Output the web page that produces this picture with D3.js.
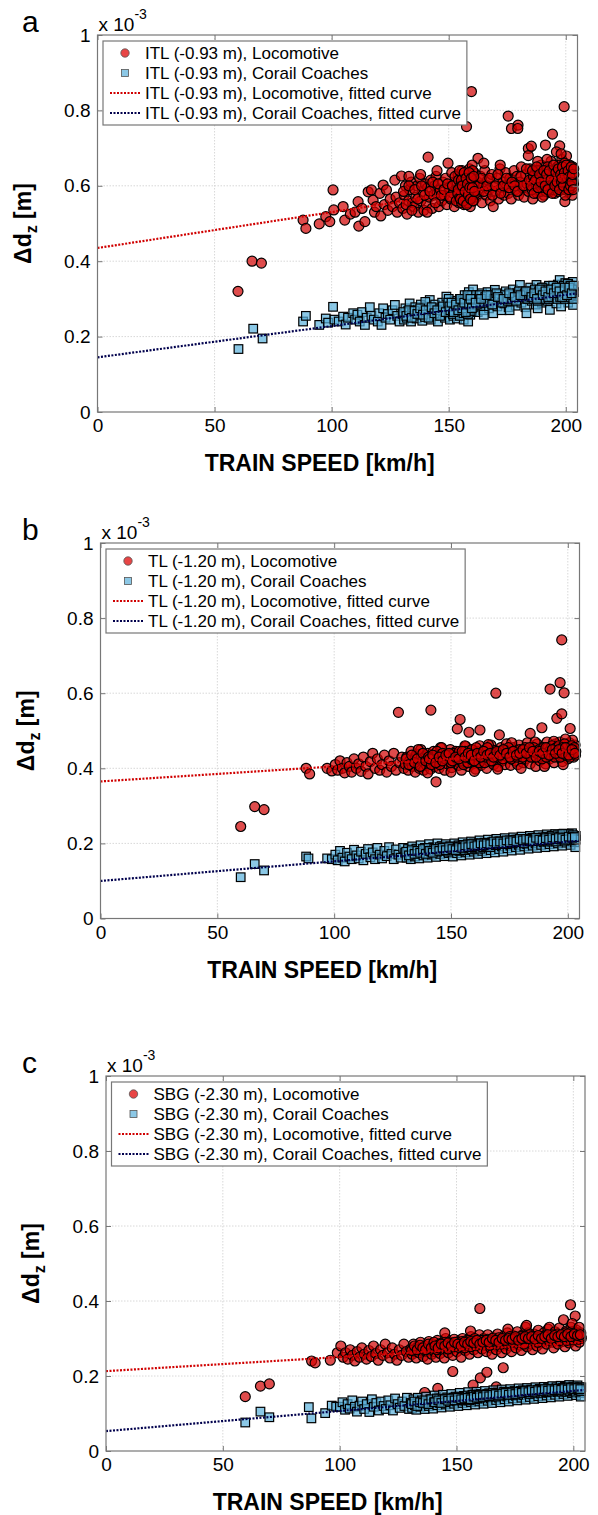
<!DOCTYPE html>
<html>
<head>
<meta charset="utf-8">
<script src="https://cdn.jsdelivr.net/npm/d3@7"></script>
<style>
  body { margin: 0; background: #fff; }
  svg { font-family: Arial, "Liberation Sans", Helvetica, sans-serif; }
</style>
</head>
<body>
<div class="chart"></div>
<script>
var svgWidth = 598;
var svgHeight = 1515;

// axis ticks (dz shown in units of 1e-3 m)
var xTicks = [0, 50, 100, 150, 200];
var yTicks = [0, 0.2, 0.4, 0.6, 0.8, 1];
var xMax = 205;

// ---- panel a : ITL (-0.93 m) ----
var locoA = [[60,.32],[66,.40],[70,.395],[87.8,.509],[89,.487],[94.7,.499],[97.5,.518],[99.2,.505],[100.6,.589],[100.9,.536],[104.9,.545],[105.6,.509],[108,.525],[110,.53],[111.3,.558],[111.6,.493],[113,.54],[114.2,.505],[115.6,.584],[117,.589],[117.7,.562],[118.3,.53],[119,.545],[120.6,.58],[121,.52],[122,.602],[122.5,.55],[123.4,.589],[124,.535],[125,.565],[126,.545],[127,.615],[127.5,.57],[128,.53],[129.8,.626],[129,.555],
  [130.4,.54],[131,.575],[131.5,.60],[132.2,.525],[132.8,.56],[133.3,.59],[134,.61],[134.6,.555],[135.2,.545],[135.9,.57],[136.5,.6],[137,.53],[137.6,.62],[138.1,.56],[138.8,.585],[139.4,.535],[140,.605],[140.5,.55],[141,.595],[141.2,.676],
  [141.7,.57],[142.3,.615],[142.9,.54],[143.4,.575],[144,.6],[144.6,.625],[145.1,.58],[145.8,.545],[146.4,.59],[147,.56],[147.5,.61],[148.1,.575],[148.7,.62],[149.2,.55],[149.7,.66],[150.2,.595],[150.8,.565],[151.3,.635],[151.9,.58],[152.4,.545],
  [153,.61],[153.5,.59],[154,.63],[154.4,.555],[154.9,.6],[155.3,.575],[155.7,.64],[156.1,.585],[156.5,.55],[156.9,.615],[157.2,.6],[157.6,.757],[157.9,.565],[158.3,.625],[158.6,.59],[158.9,.645],[159.2,.545],[159.5,.605],[159.7,.85],[160,.58],
  [160.3,.615],[160.6,.56],[160.9,.635],[161.3,.595],[161.8,.57],[162.3,.61],[162.5,.673],[163,.585],[163.6,.625],[164.2,.555],[164.8,.6],[165.4,.64],[166,.575],[166.6,.615],[167.2,.59],[167.8,.56],[168.4,.63],[169,.545],[169.5,.6],[170.1,.585],
  [170.7,.62],[171.3,.565],[171.9,.645],[172.5,.595],[173.1,.61],[173.7,.575],[174.3,.635],[174.9,.6],[175.4,.785],[175.5,.58],[176.1,.62],[176.8,.752],[176.7,.565],[177.3,.605],[177.9,.64],[178.5,.59],[179.1,.625],[179.6,.761],[179.5,.752],[179.8,.575],
  [180.4,.61],[181,.65],[181.6,.595],[182.2,.57],[182.8,.63],[183.4,.605],[184,.699],[184,.68],[184.1,.585],[184.7,.645],[185.3,.705],[185.3,.615],[185.9,.565],[186.5,.6],[187.1,.635],[187.7,.58],[188.3,.62],[188.9,.595],[189.5,.655],[190.1,.61],
  [190.7,.575],[191.3,.708],[191.3,.64],[191.9,.6],[192.5,.62],[193.1,.585],[193.7,.665],[194.3,.737],[194.3,.605],[194.9,.63],[195.4,.58],[195.9,.615],[196.4,.65],[196.9,.595],[197.4,.706],[197.4,.635],[197.9,.605],[198.3,.67],[198.7,.59],[199,.625],
  [199.3,.81],[199.6,.558],[199.8,.645],[200.1,.61],[200.3,.679],[200.5,.6],[200.9,.635],[201.2,.585],[201.6,.655],[201.9,.62],[202.2,.6],[202.5,.64],[202.8,.575],[203.1,.615],[203.4,.63],
  [196,.69],[198,.685],[192,.67],[188,.665],[172,.655],[165,.66],[160,.655],[145,.64],[138,.63],[133,.625],
  [130.7,.585],[131.8,.55],[133,.6],[134.3,.535],[135.5,.59],[136.8,.565],[138.4,.6],[139.7,.575],[140.8,.53],[142,.585],[143.2,.61],[144.3,.555],[145.5,.605],[146.8,.575],[148,.59],[149.5,.605],[150.5,.57],[151.6,.6],[152.7,.625],[153.2,.56],
  [153.8,.58],[154.2,.615],[154.7,.57],[155.1,.6],[155.5,.555],[155.9,.625],[156.3,.595],[156.7,.57],[157.1,.63],[157.5,.58],[157.8,.61],[158.1,.555],[158.5,.6],[158.8,.575],[159.1,.625],[159.4,.585],[159.9,.6],[160.2,.64],[160.5,.575],[160.8,.605],
  [161.5,.58],[162.8,.6],[164,.62],[165,.585],[166.3,.6],[167.5,.62],[168.7,.575],[170,.6],[171,.63],[172.2,.58],[173.4,.6],[174.6,.62],[175.8,.595],[177,.61],[178.2,.6],[179.4,.585],[180.8,.625],[182,.6],[183.2,.645],[184.4,.615],
  [185.6,.59],[186.2,.625],[186.8,.61],[187.4,.6],[188,.64],[188.6,.605],[189.2,.585],[189.8,.625],[190.4,.6],[191,.62],[191.6,.585],[192.2,.65],[192.8,.61],[193.4,.6],[194,.625],[194.6,.59],[195.2,.64],[195.7,.605],[196.2,.62],[196.7,.585],
  [197.2,.655],[197.7,.615],[198.1,.6],[198.5,.635],[198.9,.61],[199.2,.59],[199.5,.66],[199.9,.62],[200.2,.6],[200.6,.645],[201,.615],[201.4,.6],[201.8,.64],[202.1,.61],[202.4,.625],[202.7,.595],[203,.65],[203.3,.605],[196.5,.6],[199.7,.605],
  [154.1,.59],[154.6,.64],[155,.565],[155.4,.615],[155.8,.6],[156.2,.56],[156.6,.635],[157,.585],[157.4,.62],[157.7,.55],[158,.605],[158.4,.575],[158.7,.635],[159,.595],[159.3,.565],[159.6,.62],[160.1,.595],[160.4,.56],[160.7,.625],[161,.585],
  [185.2,.6],[185.8,.64],[186.4,.58],[187,.615],[187.6,.65],[188.2,.595],[188.8,.63],[189.4,.61],[190,.57],[190.6,.64],[191.2,.6],[191.8,.63],[192.4,.59],[193,.64],[193.6,.615],[194.2,.58],[194.8,.655],[195.3,.6],[195.8,.635],[196.3,.61],
  [196.8,.645],[197.3,.59],[197.8,.63],[198.2,.61],[198.6,.65],[199,.6],[199.4,.635],[199.8,.575],[200.2,.655],[200.6,.62],[201,.64],[201.3,.59],[201.7,.625],[202,.6],[202.3,.65],[202.6,.61],[202.9,.63],[203.2,.59],[203.4,.645],[198.4,.62]];
var coachA = [[60.2,.167],[66.5,.221],[70.5,.195],[87.8,.24],[89,.255],[94.7,.231],[97.5,.248],[98.5,.237],[100.6,.279],[101.2,.245],[103,.24],[104.9,.253],[106,.232],[107,.25],[109.2,.262],[110,.245],[111,.258],[112,.24],[113,.265],[114.2,.231],[115,.25],[116.3,.278],[117,.255],[118,.245],[119.7,.24],[120.3,.262],[121.3,.231],[122,.275],[123,.25],[124,.26],[125,.245],[126,.27],[127,.284],[128,.255],[129,.24],
  [130.3,.26],[130.9,.245],[131.5,.275],[132.1,.25],[132.7,.268],[133.3,.288],[133.9,.24],[134.5,.262],[135.1,.255],[135.7,.278],[136.3,.248],[136.9,.27],[137.5,.258],[138.1,.285],[138.7,.242],[139.3,.265],[139.9,.252],[140.5,.28],[141.1,.26],[141.9,.297],
  [142.4,.245],[143,.27],[143.6,.255],[144.2,.285],[144.8,.262],[145.4,.24],[146,.275],[146.6,.258],[147.2,.29],[147.8,.268],[148.4,.25],[149,.306],[149.5,.278],[150,.262],[150.5,.245],[151,.285],[151.5,.27],[152,.255],[152.5,.295],[153,.275],
  [153.5,.248],[154,.282],[154.4,.265],[154.8,.3],[155.2,.258],[155.6,.29],[156,.272],[156.4,.245],[156.8,.31],[157.2,.28],[157.6,.262],[158,.295],[158.3,.24],[158.6,.318],[158.9,.275],[159.2,.258],[159.5,.305],[159.8,.285],[160.1,.268],[160.4,.325],
  [160.8,.292],[161.3,.278],[161.8,.31],[162.4,.265],[163,.298],[163.6,.282],[164.2,.315],[164.8,.27],[165.4,.3],[166,.288],[166.6,.318],[167.2,.275],[167.8,.305],[168.4,.29],[169,.262],[169.7,.324],[170.2,.298],[170.8,.28],[171.4,.312],[172,.295],
  [172.6,.27],[173.2,.305],[173.8,.288],[174.4,.32],[175,.3],[175.6,.278],[176.2,.31],[176.8,.292],[177.4,.325],[178,.298],[178.6,.282],[179.2,.315],[179.8,.3],[180.4,.337],[181,.29],[181.6,.32],[182.2,.305],[182.8,.278],[183.2,.262],[183.6,.315],
  [184.2,.3],[184.8,.33],[185.4,.295],[186,.318],[186.6,.305],[187.2,.285],[187.5,.337],[188,.322],[188.6,.3],[189.2,.312],[189.8,.29],[190.4,.33],[191,.308],[191.6,.32],[192.2,.295],[192.8,.335],[193.2,.271],[193.6,.31],[194.2,.325],[194.8,.3],
  [195.4,.318],[196,.288],[196.6,.338],[197.2,.312],[197.4,.35],[197.8,.325],[198.3,.298],[198.8,.33],[199.3,.315],[199.8,.342],[200.2,.305],[200.6,.322],[201,.29],[201.4,.335],[201.8,.31],[202.2,.325],[202.6,.3],[203,.345],[203.1,.284],[203.4,.318],
  [188,.275],[176,.27],[165,.258],[150,.3],[140,.292],[198,.28],[201,.34],
  [130.6,.265],[131.9,.255],[133.1,.27],[134.2,.25],[135.4,.268],[136.6,.26],[137.8,.275],[139,.258],[140.2,.27],[141.4,.25],[142.7,.278],[143.9,.262],[145.1,.27],[146.3,.255],[147.5,.28],[148.7,.265],[149.8,.29],[150.7,.27],[151.8,.26],[152.8,.28],
  [153.4,.29],[153.9,.268],[154.3,.278],[154.7,.255],[155.1,.285],[155.5,.27],[155.9,.295],[156.3,.262],[156.7,.28],[157.1,.3],[157.5,.27],[157.9,.285],[158.2,.26],[158.5,.295],[158.8,.28],[159.1,.305],[159.4,.268],[159.7,.29],[160,.31],[160.3,.278],
  [161,.3],[162,.285],[163.2,.31],[164.4,.29],[165.6,.305],[166.8,.295],[168,.31],[169.2,.3],[170.4,.315],[171.6,.3],[172.8,.29],[174,.31],[175.2,.295],[176.4,.3],[177.6,.31],[178.8,.295],[180,.32],[181.2,.305],[182.4,.315],[183.6,.3],
  [185,.31],[185.6,.32],[186.2,.3],[186.8,.325],[187.4,.31],[188,.295],[188.6,.32],[189.2,.305],[189.8,.33],[190.4,.315],[191,.3],[191.6,.325],[192.2,.31],[192.8,.3],[193.4,.32],[194,.305],[194.6,.335],[195.2,.31],[195.8,.325],[196.4,.3],
  [197,.33],[197.6,.305],[198.1,.32],[198.6,.31],[199.1,.335],[199.6,.3],[200,.325],[200.4,.315],[200.8,.34],[201.2,.305],[201.6,.32],[202,.335],[202.4,.31],[202.8,.325],[203.2,.3],[196.9,.315],[199.4,.32],[201.9,.315],
  [150.3,.28],[151.2,.29],[152.1,.265],[153.1,.285],[154.1,.27],[155,.3],[155.8,.275],[156.6,.29],[157.3,.265],[158,.31],[158.7,.285],[159.3,.3],[159.9,.275],[161.5,.29],[163.8,.3],[166.2,.31],[168.6,.285],[171,.305],[173.4,.3],[175.8,.315],
  [178.2,.305],[180.6,.31],[183,.32],[185.3,.305],[186.5,.315],[187.7,.3],[188.9,.325],[190.1,.31],[191.3,.32],[192.5,.305],[193.7,.325],[194.9,.315],[196.1,.33],[197.3,.32],[198.4,.305],[199.5,.33],[200.5,.31],[201.5,.33],[202.5,.315],[203.3,.335]];
var fitLocoA = [[0, .435], [205, .63]];
var fitCoachA = [[0, .145], [205, .315]];

// ---- panel b : TL (-1.20 m) ----
var locoB = [[60,.245],[66,.298],[70,.29],[88,.40],[89.5,.385],[97,.40],[99,.393],
  [100.5,.41],[101.5,.395],[102.5,.42],[103.5,.4],[104.5,.388],[105.5,.415],[106.5,.405],[107.5,.39],[108.5,.425],[109.5,.4],[110.5,.412],[111.5,.392],[112.5,.43],[113.5,.405],[114.5,.385],[115.5,.418],[116.5,.44],[117.5,.4],[118.5,.425],[119.5,.395],[120.5,.41],[121.5,.435],[122.5,.39],[123.5,.42],[124.5,.405],[125.5,.44],[126.5,.395],[127.5,.549],[128,.415],[129,.43],[129.8,.4],
  [130.5,.41],[131.1,.43],[131.7,.395],[132.3,.42],[132.9,.445],[133.5,.405],[134.1,.425],[134.7,.39],[135.3,.438],[135.9,.412],[136.5,.4],[137.1,.45],[137.7,.42],[138.3,.395],[138.9,.432],[139.5,.408],[140.1,.44],[140.7,.415],[141.4,.555],[141.3,.398],
  [141.9,.428],[142.5,.445],[143.1,.405],[143.6,.364],[143.7,.42],[144.3,.435],[144.9,.4],[145.5,.455],[146.1,.418],[146.7,.43],[147.3,.395],[147.9,.44],[148.5,.412],[149.1,.425],[149.7,.45],[150.3,.402],[150.9,.432],[151.5,.418],[152.1,.445],[152.7,.505],
  [153.3,.408],[153.9,.53],[153.9,.428],[154.5,.395],[155.1,.44],[155.7,.415],[156.3,.458],[156.9,.425],[157.5,.405],[157.7,.496],[158.1,.435],[158.7,.45],[159.3,.412],[159.9,.43],[160.5,.398],[161.1,.445],[161.7,.42],[162.3,.46],[162.4,.502],[162.9,.408],
  [163.5,.435],[164.1,.425],[164.7,.45],[165.3,.4],[165.9,.44],[166.5,.418],[167.1,.462],[167.7,.43],[168.3,.41],[169.2,.6],[168.9,.448],[169.5,.425],[170.1,.405],[170.7,.489],[170.7,.44],[171.3,.455],[171.9,.42],[172.5,.435],[173.1,.41],[173.7,.465],
  [174.3,.43],[174.9,.445],[175.5,.408],[176.1,.438],[176.7,.455],[177.3,.42],[177.9,.44],[178.5,.41],[179.1,.462],[179.7,.432],[180.3,.448],[180.9,.415],[181.5,.44],[182.1,.425],[182.7,.468],[183.3,.435],[183.9,.493],[183.9,.412],[184.5,.452],[185.1,.43],
  [185.7,.445],[186.3,.405],[186.9,.465],[187.5,.438],[188.1,.42],[188.9,.508],[188.7,.455],[189.3,.43],[189.9,.445],[190.5,.412],[191.1,.47],[191.7,.44],[192.3,.425],[192.4,.611],[192.9,.458],[193.5,.435],[194.1,.415],[194.7,.465],[195.3,.533],[195.3,.445],
  [195.9,.43],[196.5,.47],[196.7,.628],[197.1,.44],[197.4,.742],[197.4,.545],[197.7,.418],[198.3,.46],[198.4,.601],[198.9,.435],[199.5,.452],[200.1,.425],[200.7,.468],[201,.506],[201.3,.44],[201.9,.455],[202.5,.43],[203.1,.462],[203.4,.445],[202,.475],
  [199,.478],[194,.472],[186,.47],[176,.468],[166,.463],[156,.46],[146,.455],[136,.45],[190,.405],[180,.4],[170,.398],[160,.392],[150,.39],[140,.388],[198,.41],
  [130.8,.425],[132,.41],[133.2,.435],[134.4,.415],[135.6,.425],[136.8,.405],[138,.44],[139.2,.42],[140.4,.43],[141.6,.41],[142.8,.43],[144,.445],[145.2,.41],[146.4,.44],[147.6,.425],[148.8,.435],[150,.415],[151.2,.44],[152.4,.425],[153.6,.445],
  [154.2,.42],[154.8,.435],[155.4,.41],[156,.445],[156.6,.43],[157.2,.415],[157.8,.44],[158.4,.425],[159,.45],[159.6,.42],[160.2,.435],[160.8,.455],[161.4,.43],[162,.415],[162.6,.44],[163.2,.43],[163.8,.445],[164.4,.415],[165,.43],[165.6,.455],
  [166.2,.435],[167.4,.42],[168.6,.44],[169.8,.43],[171,.445],[172.2,.425],[173.4,.44],[174.6,.455],[175.8,.425],[177,.445],[178.2,.43],[179.4,.45],[180.6,.43],[181.8,.455],[183,.44],[184.2,.43],[185.4,.455],[186.6,.44],[187.8,.45],[189,.425],
  [189.6,.455],[190.2,.44],[190.8,.43],[191.4,.455],[192,.445],[192.6,.435],[193.2,.46],[193.8,.445],[194.4,.43],[195,.455],[195.6,.44],[196.2,.46],[196.8,.43],[197.4,.45],[198,.44],[198.6,.465],[199.2,.435],[199.8,.455],[200.4,.445],[201,.43],
  [201.6,.46],[202.2,.445],[202.8,.455],[203.3,.435],[200.8,.45],[197.8,.455],
  [140.8,.425],[142.2,.435],[143.5,.415],[145,.43],[146.4,.42],[147.8,.435],[149.2,.44],[150.6,.42],[152,.43],[153.4,.425],[154.8,.445],[156.1,.43],[157.4,.44],[158.7,.435],[160,.42],[161.3,.44],[162.7,.43],[164,.445],[165.4,.435],[166.8,.44],
  [168.2,.43],[169.6,.445],[171,.435],[172.4,.45],[173.8,.44],[175.2,.43],[176.6,.445],[178,.435],[179.4,.44],[180.8,.45],[182.2,.44],[183.6,.455],[185,.445],[186.4,.43],[187.8,.445],[189.2,.44],[190.6,.455],[192,.435],[193.4,.45],[194.8,.44],
  [196.2,.45],[197.6,.44],[199,.455],[200.4,.435],[201.8,.45],[203,.44]];
var coachB = [[60,.11],[66,.145],[70,.128],[88,.165],[89,.16],[97,.16],[99,.158],
  [100.5,.17],[101.5,.155],[102.5,.18],[103.5,.162],[104.5,.152],[105.5,.175],[106.5,.165],[107.5,.158],[108.5,.183],[109.5,.168],[110.5,.16],[111.5,.178],[112.5,.155],[113.5,.172],[114.5,.185],[115.5,.163],[116.5,.176],[117.5,.158],[118.5,.188],[119.5,.17],[120.5,.16],[121.5,.18],[122.5,.166],[123.5,.19],[124.5,.172],[125.5,.158],[126.5,.184],[127.5,.17],[128.5,.162],[129.5,.188],
  [130.4,.175],[131,.162],[131.6,.185],[132.2,.17],[132.8,.158],[133.4,.192],[134,.178],[134.6,.165],[135.2,.186],[135.8,.172],[136.4,.16],[137,.195],[137.6,.18],[138.2,.168],[138.8,.188],[139.4,.175],[140,.162],[140.6,.198],[141.2,.182],[141.8,.17],
  [142.4,.19],[143,.176],[143.6,.164],[144.2,.2],[144.8,.185],[145.4,.172],[146,.193],[146.6,.18],[147.2,.166],[147.8,.198],[148.4,.184],[149,.174],[149.6,.192],[150.2,.178],[150.8,.165],[151.4,.2],[152,.186],[152.6,.174],[153.2,.195],[153.8,.182],
  [154.4,.168],[155,.203],[155.6,.188],[156.2,.176],[156.8,.196],[157.4,.183],[158,.17],[158.6,.205],[159.2,.19],[159.8,.178],[160.4,.198],[161,.184],[161.6,.172],[162.2,.208],[162.8,.192],[163.4,.18],[164,.2],[164.6,.186],[165.2,.174],[165.8,.21],
  [166.4,.195],[167,.182],[167.6,.203],[168.2,.19],[168.8,.176],[169.4,.212],[170,.197],[170.6,.185],[171.2,.205],[171.8,.192],[172.4,.178],[173,.214],[173.6,.2],[174.2,.187],[174.8,.207],[175.4,.194],[176,.181],[176.6,.216],[177.2,.202],[177.8,.19],
  [178.4,.21],[179,.196],[179.6,.183],[180.2,.218],[180.8,.204],[181.4,.192],[182,.212],[182.6,.198],[183.2,.186],[183.8,.22],[184.4,.206],[185,.194],[185.6,.214],[186.2,.2],[186.8,.188],[187.4,.222],[188,.208],[188.6,.196],[189.2,.216],[189.8,.203],
  [190.4,.19],[191,.224],[191.6,.21],[192.2,.198],[192.8,.218],[193.4,.205],[194,.192],[194.6,.225],[195.2,.212],[195.8,.2],[196.4,.22],[197,.207],[197.6,.194],[198.2,.226],[198.8,.214],[199.4,.202],[200,.222],[200.6,.209],[201.2,.196],[201.8,.227],
  [202.4,.215],[203,.203],[203.4,.22],[203.2,.19],
  [130.8,.178],[132,.168],[133.2,.182],[134.4,.172],[135.6,.18],[136.8,.175],[138,.185],[139.2,.172],[140.4,.188],[141.6,.178],[142.8,.185],[144,.178],[145.2,.19],[146.4,.182],[147.6,.188],[148.8,.178],[150,.192],[151.2,.184],[152.4,.19],[153.6,.18],
  [154.2,.192],[154.8,.185],[155.4,.196],[156,.182],[156.6,.19],[157.2,.198],[157.8,.186],[158.4,.194],[159,.184],[159.6,.2],[160.2,.188],[160.8,.196],[161.4,.19],[162,.2],[162.6,.186],[163.2,.195],[163.8,.19],[164.4,.202],[165,.192],[165.6,.198],
  [166.8,.19],[168,.2],[169.2,.195],[170.4,.205],[171.6,.198],[172.8,.205],[174,.198],[175.2,.208],[176.4,.2],[177.6,.21],[178.8,.203],[180,.21],[181.2,.2],[182.4,.212],[183.6,.205],[184.8,.215],[186,.207],[187.2,.213],[188.4,.205],[189.6,.215],
  [190.2,.208],[190.8,.218],[191.4,.205],[192,.215],[192.6,.21],[193.2,.22],[193.8,.21],[194.4,.215],[195,.205],[195.6,.222],[196.2,.212],[196.8,.218],[197.4,.21],[198,.22],[198.6,.207],[199.2,.218],[199.8,.212],[200.4,.225],[201,.214],[201.6,.208],
  [202.2,.222],[202.8,.212],[203.3,.21],[197.7,.225],
  [140.8,.18],[142.2,.175],[143.5,.185],[145,.18],[146.4,.188],[147.8,.182],[149.2,.19],[150.6,.185],[152,.182],[153.4,.19],[154.8,.188],[156.1,.195],[157.4,.19],[158.7,.198],[160,.192],[161.3,.195],[162.7,.2],[164,.195],[165.4,.2],[166.8,.198],
  [168.2,.205],[169.6,.2],[171,.205],[172.4,.2],[173.8,.208],[175.2,.203],[176.6,.208],[178,.205],[179.4,.212],[180.8,.208],[182.2,.212],[183.6,.21],[185,.206],[186.4,.215],[187.8,.21],[189.2,.208],[190.6,.214],[192,.21],[193.4,.216],[194.8,.212],
  [196.2,.216],[197.6,.214],[199,.21],[200.4,.218],[201.8,.215],[203,.217]];
var fitLocoB = [[0, .365], [205, .447]];
var fitCoachB = [[0, .10], [205, .207]];

// ---- panel c : SBG (-2.30 m) ----
var locoC = [[59.6,.145],[66.1,.173],[69.9,.179],[88,.24],[89.5,.235],[96,.242],[99,.262],
  [100.5,.28],[101.5,.25],[102.5,.262],[103.5,.245],[104.5,.27],[105.5,.255],[106.5,.24],[107.5,.265],[108.5,.25],[109.5,.275],[110.5,.258],[111.5,.245],[112.5,.268],[113.5,.252],[114.5,.28],[115.5,.26],[116.5,.242],[117.5,.27],[118.5,.255],[119.5,.285],[120.5,.262],[121.5,.248],[122.5,.275],[123.5,.258],[124.5,.242],[125.5,.27],[126.5,.255],[127.5,.285],[128.5,.265],[129.5,.25],
  [130.4,.272],[131,.258],[131.6,.285],[132.2,.265],[132.8,.248],[133.4,.278],[134,.262],[134.6,.29],[135.2,.268],[135.8,.252],[136.4,.156],[136.4,.28],[137,.265],[137.6,.245],[138.2,.292],[138.8,.272],[139.4,.258],[140,.285],[140.6,.265],[141.2,.25],
  [141.8,.295],[142,.167],[142.4,.275],[143,.26],[143.6,.288],[144.2,.27],[144.8,.248],[145.4,.3],[146,.278],[146.6,.262],[147.2,.29],[147.8,.272],[148.4,.212],[148.4,.255],[149,.298],[149.6,.28],[150.2,.265],[150.8,.292],[151.4,.275],[152,.25],
  [152.6,.3],[153.2,.282],[153.8,.268],[154.4,.295],[155,.278],[155.6,.258],[156.2,.305],[156.8,.285],[157.1,.176],[157.4,.27],[158,.298],[158.6,.28],[159.2,.262],[159.8,.31],[160,.38],[160.2,.195],[160.4,.288],[161,.272],[161.6,.3],[162.2,.282],
  [162.8,.265],[163.4,.31],[163,.21],[164,.29],[164.6,.275],[165.2,.258],[165.8,.302],[166.4,.285],[167,.171],[167,.27],[167.6,.312],[168.2,.292],[168.8,.278],[169.4,.262],[170,.305],[170,.222],[170.6,.288],[171.2,.272],[171.8,.315],[172.4,.295],
  [173,.28],[173.6,.265],[174.2,.308],[174.8,.29],[175.4,.275],[176,.318],[176.6,.298],[177.2,.282],[177.8,.268],[178.4,.31],[179,.292],[179.6,.33],[180.2,.278],[180.8,.315],[181.4,.298],[182,.285],[182.6,.27],[183.2,.312],[183.8,.295],[184.4,.28],
  [185,.322],[185.6,.302],[186.2,.288],[186.8,.272],[187.4,.315],[188,.298],[188.6,.285],[189.2,.325],[189.8,.33],[190.4,.305],[191,.29],[191.6,.275],[192.2,.318],[192.8,.3],[193.4,.285],[194,.328],[194.6,.308],[195.2,.292],[195.8,.35],[196.4,.278],
  [197,.32],[197.6,.302],[198.2,.288],[198.8,.39],[199,.33],[199.6,.31],[200.2,.295],[200.8,.36],[201,.28],[201.4,.322],[202,.305],[202.6,.29],[203.2,.315],[203.4,.3],[145,.315],[180,.335],[156,.32],[172,.325],
  [130.8,.268],[132,.28],[133.2,.27],[134.4,.282],[135.6,.275],[136.8,.27],[138,.285],[139.2,.275],[140.4,.29],[141.6,.27],[142.8,.285],[144,.278],[145.2,.29],[146.4,.272],[147.6,.285],[148.8,.278],[150,.29],[151.2,.28],[152.4,.292],[153.6,.275],
  [154.2,.288],[154.8,.282],[155.4,.295],[156,.278],[156.6,.29],[157.2,.285],[157.8,.3],[158.4,.282],[159,.295],[159.6,.285],[160.8,.295],[162,.29],[163.2,.298],[164.4,.282],[165.6,.295],[166.8,.29],[168,.302],[169.2,.285],[170.4,.298],[171.6,.29],
  [172.8,.305],[174,.29],[175.2,.3],[176.4,.295],[177.6,.305],[178.8,.285],[180,.3],[181.2,.31],[182.4,.295],[183.6,.305],[184.8,.29],[186,.305],[187.2,.298],[188.4,.31],[189.6,.295],[190.8,.31],[192,.3],[193.2,.312],[194.4,.295],[195.6,.31],
  [196.2,.3],[196.8,.315],[197.4,.295],[198,.31],[198.6,.3],[199.2,.318],[199.8,.298],[200.4,.31],[201,.302],[201.6,.315],[202.2,.298],[202.8,.31],[203.3,.305],[199.5,.34],[202.5,.33],
  [140.8,.28],[142.2,.275],[143.5,.285],[145,.28],[146.4,.288],[147.8,.28],[149.2,.29],[150.6,.285],[152,.28],[153.4,.29],[154.8,.285],[156.1,.292],[157.4,.288],[158.7,.295],[160,.285],[161.3,.29],[162.7,.295],[164,.29],[165.4,.3],[166.8,.295],
  [168.2,.29],[169.6,.3],[171,.295],[172.4,.3],[173.8,.298],[175.2,.305],[176.6,.295],[178,.3],[179.4,.305],[180.8,.3],[182.2,.305],[183.6,.298],[185,.308],[186.4,.3],[187.8,.305],[189.2,.31],[190.6,.3],[192,.308],[193.4,.305],[194.8,.31],
  [196.2,.305],[197.6,.312],[199,.305],[200.4,.312],[201.8,.308],[203,.31]];
var coachC = [[59.6,.076],[66.1,.105],[69.9,.09],[86.8,.117],[87.9,.087],[93.8,.101],[96.6,.121],[98.5,.118],
  [100.1,.118],[101.2,.13],[102.3,.11],[103.4,.125],[104.3,.113],[105.4,.135],[106.5,.118],[107.4,.105],[108.5,.121],[109.6,.132],[110.5,.112],[111.6,.125],[112.7,.104],[113.8,.138],[114.6,.118],[115.7,.128],[116.8,.108],[117.7,.132],[118.8,.12],[119.7,.112],[120.8,.135],[121.7,.122],[122.8,.108],[123.7,.14],[124.8,.125],[125.7,.115],[126.8,.132],[127.7,.12],[128.8,.142],[129.7,.112],
  [130.4,.128],[131,.115],[131.6,.138],[132.2,.122],[132.8,.11],[133.4,.142],[134,.128],[134.6,.118],[135.2,.135],[135.8,.124],[136.4,.112],[137,.145],[137.6,.13],[138.2,.12],[138.8,.138],[139.4,.126],[140,.113],[140.6,.148],[141.2,.133],[141.8,.122],
  [142.4,.14],[143,.128],[143.6,.116],[144.2,.15],[144.8,.135],[145.4,.124],[146,.143],[146.6,.13],[147.2,.118],[147.8,.152],[148.4,.137],[149,.126],[149.6,.145],[150.2,.132],[150.8,.12],[151.4,.155],[152,.14],[152.6,.128],[153.2,.147],[153.8,.134],
  [154.4,.122],[155,.157],[155.6,.142],[156.2,.13],[156.8,.15],[157.4,.136],[158,.124],[158.6,.158],[159.2,.144],[159.8,.132],[160.4,.152],[161,.138],[161.6,.126],[162.2,.16],[162.8,.146],[163.4,.134],[164,.154],[164.6,.14],[165.2,.128],[165.8,.162],
  [166.4,.148],[167,.136],[167.6,.156],[168.2,.142],[168.8,.13],[169.4,.164],[170,.15],[170.6,.138],[171.2,.158],[171.8,.145],[172.4,.132],[173,.165],[173.6,.152],[174.2,.14],[174.8,.16],[175.4,.147],[176,.135],[176.6,.167],[177.2,.154],[177.8,.142],
  [178.4,.162],[179,.149],[179.6,.137],[180.2,.168],[180.8,.156],[181.4,.144],[182,.164],[182.6,.151],[183.2,.139],[183.8,.17],[184.4,.158],[185,.146],[185.6,.166],[186.2,.153],[186.8,.141],[187.4,.171],[188,.16],[188.6,.148],[189.2,.168],[189.8,.155],
  [190.4,.143],[191,.173],[191.6,.162],[192.2,.15],[192.8,.17],[193.4,.157],[194,.145],[194.6,.174],[195.2,.164],[195.8,.152],[196.4,.171],[197,.159],[197.6,.147],[198.2,.176],[198.8,.166],[199.4,.154],[200,.172],[200.6,.161],[201.2,.149],[201.8,.175],
  [202.4,.165],[203,.155],[203.4,.17],[203.2,.145],
  [130.8,.125],[132,.132],[133.2,.12],[134.4,.13],[135.6,.128],[136.8,.135],[138,.125],[139.2,.138],[140.4,.13],[141.6,.14],[142.8,.132],[144,.138],[145.2,.13],[146.4,.14],[147.6,.135],[148.8,.142],[150,.136],[151.2,.145],[152.4,.135],[153.6,.145],
  [154.2,.138],[154.8,.148],[155.4,.135],[156,.145],[156.6,.14],[157.2,.15],[157.8,.138],[158.4,.148],[159,.14],[159.6,.15],[160.2,.142],[160.8,.148],[162,.145],[163.2,.152],[164.4,.145],[165.6,.155],[166.8,.145],[168,.152],[169.2,.148],[170.4,.158],
  [171.6,.15],[172.8,.156],[174,.15],[175.2,.158],[176.4,.15],[177.6,.16],[178.8,.155],[180,.162],[181.2,.152],[182.4,.16],[183.6,.155],[184.8,.163],[186,.155],[187.2,.164],[188.4,.157],[189.6,.165],[190.8,.158],[192,.165],[193.2,.16],[194.4,.167],
  [195,.158],[195.6,.168],[196.2,.16],[196.8,.166],[197.4,.158],[198,.17],[198.6,.16],[199.2,.168],[199.8,.162],[200.4,.17],[201,.158],[201.6,.167],[202.2,.162],[202.8,.17],[203.3,.16],
  [140.8,.13],[142.2,.135],[143.5,.128],[145,.138],[146.4,.134],[147.8,.14],[149.2,.135],[150.6,.142],[152,.138],[153.4,.14],[154.8,.142],[156.1,.138],[157.4,.145],[158.7,.142],[160,.148],[161.3,.144],[162.7,.15],[164,.146],[165.4,.15],[166.8,.152],
  [168.2,.148],[169.6,.153],[171,.155],[172.4,.15],[173.8,.156],[175.2,.152],[176.6,.158],[178,.155],[179.4,.16],[180.8,.157],[182.2,.162],[183.6,.158],[185,.162],[186.4,.16],[187.8,.165],[189.2,.161],[190.6,.165],[192,.162],[193.4,.166],[194.8,.163],
  [196.2,.167],[197.6,.164],[199,.168],[200.4,.165],[201.8,.168],[203,.165]];
var fitLocoC = [[0, .213], [205, .29]];
var fitCoachC = [[0, .053], [205, .163]];

var panels = [
  {tag: "a", site: "ITL (-0.93 m)", loco: locoA, coach: coachA, fitLoco: fitLocoA, fitCoach: fitCoachA,
   left: 97.5, right: 577.5, top: 35, bottom: 412},
  {tag: "b", site: "TL (-1.20 m)", loco: locoB, coach: coachB, fitLoco: fitLocoB, fitCoach: fitCoachB,
   left: 100.5, right: 579.5, top: 543, bottom: 918.5},
  {tag: "c", site: "SBG (-2.30 m)", loco: locoC, coach: coachC, fitLoco: fitLocoC, fitCoach: fitCoachC,
   left: 106, right: 585, top: 1076, bottom: 1451}
];

// marker fills are slightly see-through so stacked edges build up the dark core
var redFill = "#e84545", blueFill = "#8cc8e6";
var redCloud = "#d20000", blueCloud = "#5ab0db";
var redLine = "#d00000", navyLine = "#00004d";
var axisColor = "#777";

var svg = d3.select(".chart")
  .append("svg")
  .attr("width", svgWidth)
  .attr("height", svgHeight);

panels.forEach(function(p) {
  var width = p.right - p.left;
  var height = p.bottom - p.top;

  var chartGroup = svg.append("g")
    .attr("transform", `translate(${p.left}, ${p.top})`);

  var xScale = d3.scaleLinear().domain([0, xMax]).range([0, width]);
  var yScale = d3.scaleLinear().domain([0, 1]).range([height, 0]);

  // dotted grid
  chartGroup.append("g").selectAll("line")
    .data(xTicks.filter(d => d > 0))
    .enter().append("line")
    .attr("x1", d => xScale(d)).attr("x2", d => xScale(d))
    .attr("y1", 0).attr("y2", height)
    .attr("stroke", "#d8d8d8").attr("stroke-dasharray", "1.5,1.5");
  chartGroup.append("g").selectAll("line")
    .data(yTicks.filter(d => d > 0 && d < 1))
    .enter().append("line")
    .attr("y1", d => yScale(d)).attr("y2", d => yScale(d))
    .attr("x1", 0).attr("x2", width)
    .attr("stroke", "#d8d8d8").attr("stroke-dasharray", "1.5,1.5");

  // scatter: locomotive (circles) then coaches (squares)
  chartGroup.append("g").selectAll("circle")
    .data(p.loco)
    .enter().append("circle")
    .attr("cx", d => xScale(d[0]))
    .attr("cy", d => yScale(d[1]))
    .attr("r", 5)
    .attr("fill", redCloud)
    .attr("fill-opacity", 0.7)
    .attr("stroke", "#000")
    .attr("stroke-width", 1.2);

  chartGroup.append("g").selectAll("rect")
    .data(p.coach)
    .enter().append("rect")
    .attr("x", d => xScale(d[0]) - 4.3)
    .attr("y", d => yScale(d[1]) - 4.3)
    .attr("width", 8.6)
    .attr("height", 8.6)
    .attr("fill", blueCloud)
    .attr("fill-opacity", 0.7)
    .attr("stroke", "#000")
    .attr("stroke-width", 1.2);

  // fitted curves
  var line = d3.line().x(d => xScale(d[0])).y(d => yScale(d[1]));
  chartGroup.append("path").datum(p.fitLoco)
    .attr("d", line).attr("fill", "none")
    .attr("stroke", redLine).attr("stroke-width", 2.2)
    .attr("stroke-dasharray", "2,1.5");
  chartGroup.append("path").datum(p.fitCoach)
    .attr("d", line).attr("fill", "none")
    .attr("stroke", navyLine).attr("stroke-width", 2.2)
    .attr("stroke-dasharray", "2,1.5");

  // axes, ticks pointing inward on all four sides
  var fmtY = d => (d === 0 || d === 1) ? String(d) : d3.format(".1f")(d);
  var bottomAxis = chartGroup.append("g")
    .attr("transform", `translate(0, ${height})`)
    .call(d3.axisBottom(xScale).tickValues(xTicks).tickSizeInner(-5).tickSizeOuter(0).tickPadding(7));
  var leftAxis = chartGroup.append("g")
    .call(d3.axisLeft(yScale).tickValues(yTicks).tickFormat(fmtY).tickSizeInner(-5).tickSizeOuter(0).tickPadding(7));
  var topAxis = chartGroup.append("g")
    .call(d3.axisTop(xScale).tickValues(xTicks).tickFormat("").tickSizeInner(-5).tickSizeOuter(0));
  var rightAxis = chartGroup.append("g")
    .attr("transform", `translate(${width}, 0)`)
    .call(d3.axisRight(yScale).tickValues(yTicks).tickFormat("").tickSizeInner(-5).tickSizeOuter(0));

  [bottomAxis, leftAxis, topAxis, rightAxis].forEach(function(ax) {
    ax.select(".domain").remove();
    ax.selectAll("line").attr("stroke", axisColor);
    ax.selectAll("text").attr("fill", "#000")
      .style("font-size", "19px")
      .style("font-family", "Arial, 'Liberation Sans', sans-serif");
  });
  chartGroup.append("rect")
    .attr("width", width).attr("height", height)
    .attr("fill", "none").attr("stroke", axisColor).attr("stroke-width", 1.2);

  // axis titles
  chartGroup.append("text")
    .attr("x", xScale(100) - 12)
    .attr("y", height + 59)
    .attr("text-anchor", "middle")
    .style("font-size", "23px")
    .style("font-weight", "bold")
    .text("TRAIN SPEED [km/h]");

  var yTitle = chartGroup.append("text")
    .attr("transform", `translate(-67, ${height / 2}) rotate(-90)`)
    .attr("text-anchor", "middle")
    .style("font-size", "23px")
    .style("font-weight", "bold");
  yTitle.append("tspan").text("\u0394d");
  yTitle.append("tspan").attr("dy", 6).style("font-size", "16px").text("z");
  yTitle.append("tspan").attr("dy", -6).text(" [m]");

  // exponent note and panel letter
  var expo = svg.append("text")
    .attr("x", p.left + 1)
    .attr("y", p.top - 4)
    .style("font-size", "19px");
  expo.append("tspan").text("x 10");
  expo.append("tspan").attr("dy", -12).style("font-size", "14px").text("-3");

  svg.append("text")
    .attr("x", 22)
    .attr("y", p.top - 3)
    .style("font-size", "30px")
    .text(p.tag);

  // legend
  var items = [
    {label: p.site + ", Locomotive", kind: "circle"},
    {label: p.site + ", Corail Coaches", kind: "square"},
    {label: p.site + ", Locomotive, fitted curve", kind: "line", color: redLine},
    {label: p.site + ", Corail Coaches, fitted curve", kind: "line", color: navyLine}
  ];
  var legend = chartGroup.append("g").attr("transform", "translate(5.5, 6)");
  var legendBox = legend.append("rect")
    .attr("height", 84)
    .attr("fill", "#fff")
    .attr("stroke", axisColor)
    .attr("stroke-width", 1.2);

  var maxLen = 0;
  items.forEach(function(it, i) {
    var cy = 12 + i * 20;
    if (it.kind === "circle") {
      legend.append("circle").attr("cx", 22).attr("cy", cy).attr("r", 4.2)
        .attr("fill", redFill).attr("stroke", "#555").attr("stroke-width", 0.8);
    } else if (it.kind === "square") {
      legend.append("rect").attr("x", 18.5).attr("y", cy - 3.5).attr("width", 7).attr("height", 7)
        .attr("fill", blueFill).attr("stroke", "#555").attr("stroke-width", 0.8);
    } else {
      legend.append("line").attr("x1", 7).attr("x2", 37).attr("y1", cy).attr("y2", cy)
        .attr("stroke", it.color).attr("stroke-width", 2)
        .attr("stroke-dasharray", "2,1.5");
    }
    var t = legend.append("text")
      .attr("x", 42).attr("y", cy + 6)
      .style("font-size", "17px")
      .text(it.label);
    maxLen = Math.max(maxLen, t.node().getComputedTextLength());
  });
  legendBox.attr("width", 42 + maxLen + 6);
});
</script>
</body>
</html>
